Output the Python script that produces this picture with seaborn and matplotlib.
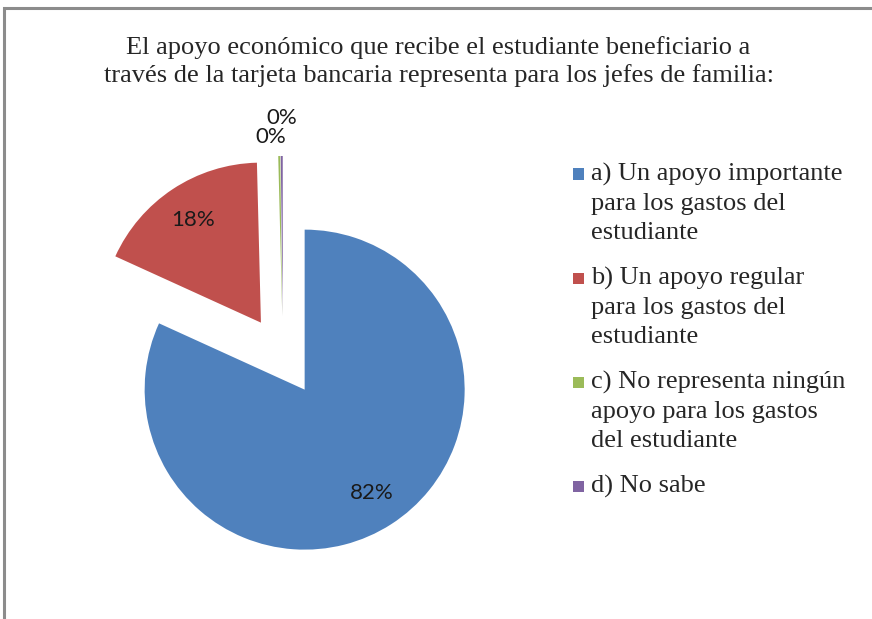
import numpy as np
import matplotlib
matplotlib.use("Agg")
import matplotlib.pyplot as plt
from matplotlib.patches import Rectangle
import seaborn as sns

# Data
categorias = [
    "a) Un apoyo importante\npara los gastos del\nestudiante",
    "b) Un apoyo regular\npara los gastos del\nestudiante",
    "c) No representa ningún\napoyo para los gastos\ndel estudiante",
    "d) No sabe",
]
porcentajes = [81.8, 17.8, 0.2, 0.2]
colores = ["#4F81BD", "#C0504D", "#9BBB59", "#8064A2"]
titulo = ("El apoyo económico que recibe el estudiante beneficiario a\n"
          "través de la tarjeta bancaria representa para los jefes de familia:")

sns.set_theme(style="white")
plt.rcParams["font.family"] = ["Liberation Serif", "DejaVu Serif"]

W, H = 872, 619
fig = plt.figure(figsize=(W / 100, H / 100), dpi=100)

# pie axes: centre (283, 356) px, radius 160 px
r_px = 160
cx, cy = 283, 356
half = 1.6 * r_px
ax = fig.add_axes([(cx - half) / W, (H - cy - half) / H, 2 * half / W, 2 * half / H])

wedges, textos, autotextos = ax.pie(
    porcentajes,
    colors=colores,
    startangle=90,
    counterclock=False,
    explode=[0.25] * 4,
    autopct="%.0f%%",
    pctdistance=0.77,
    wedgeprops=dict(linewidth=0),
    textprops=dict(fontsize=16, family=["Lato", "DejaVu Sans"], color="#1a1a1a"),
)
ax.set_xlim(-1.6, 1.6)
ax.set_ylim(-1.6, 1.6)
ax.set_aspect("equal")
ax.axis("off")

# move the labels of the tiny slices outside
for w, t, d, dx in zip(wedges, autotextos, [0, 0, 1.12, 1.24], [0, 0, -0.05, 0.0]):
    if d:
        ang = np.deg2rad((w.theta1 + w.theta2) / 2)
        t.set_position((w.center[0] + d * np.cos(ang) + dx, w.center[1] + d * np.sin(ang)))

fig.text(0.503, 1 - 36 / H, titulo, ha="center", va="top", fontsize=19, linespacing=1.27)

# legend: square aligned with the first line of each entry
y0 = 174
paso = 104
for i, (w, lab) in enumerate(zip(wedges, categorias)):
    yc = y0 + i * paso
    fig.patches.append(Rectangle((573 / W, 1 - (yc + 5.5) / H), 11 / W, 11 / H,
                                 transform=fig.transFigure, facecolor=w.get_facecolor(),
                                 edgecolor="none"))
    fig.text(591 / W, 1 - (yc - 11) / H, lab, ha="left", va="top", fontsize=19,
             linespacing=1.42)

# chart frame (cropped: only top and left edges visible)
fig.patches.append(Rectangle((4 / W, -0.1), 1.2, 1 - 8 / H + 0.1, transform=fig.transFigure,
                             fill=False, edgecolor="#8c8c8c", linewidth=2.2))

fig.savefig("out.png", dpi=100)
